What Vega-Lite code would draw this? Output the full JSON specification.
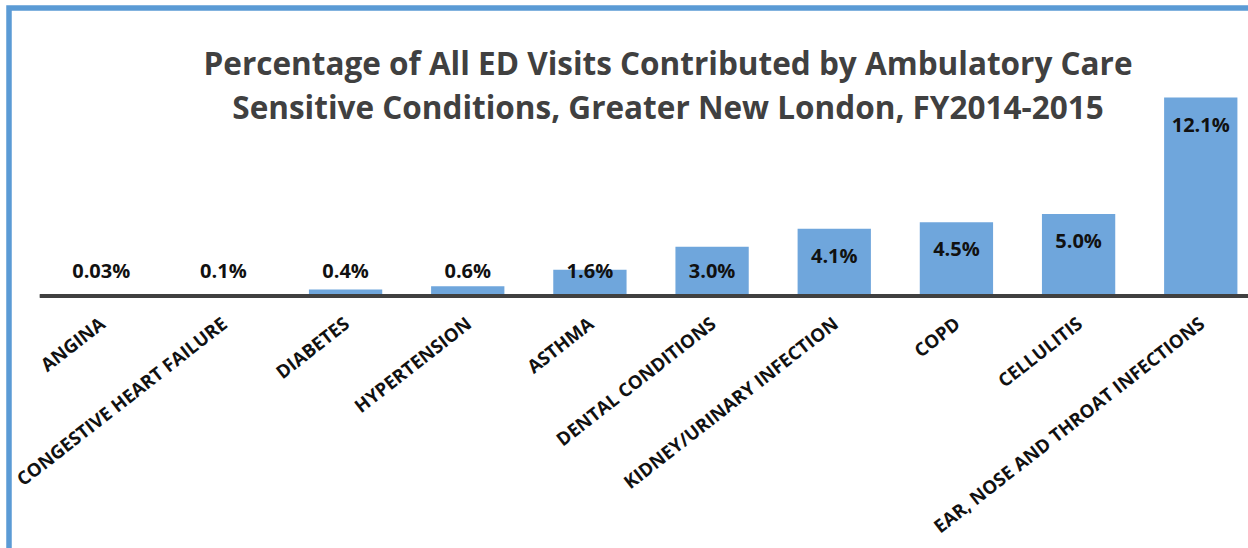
{
  "$schema": "https://vega.github.io/schema/vega-lite/v6.json",
  "autosize": {"type": "none"},
  "padding": {"left": 9, "top": 8, "right": 0, "bottom": 0},
  "width": 1284,
  "height": 560,
  "background": "white",
  "config": {
    "view": {"stroke": "#5b9bd5", "strokeWidth": 5.5},
    "font": "Open Sans"
  },
  "title": {
    "text": ["Percentage of All ED Visits Contributed by Ambulatory Care", "Sensitive Conditions, Greater New London, FY2014-2015"],
    "anchor": "middle",
    "frame": "group",
    "dx": 17,
    "dy": 117,
    "offset": 0,
    "baseline": "top",
    "font": "Open Sans",
    "fontSize": 31.5,
    "fontWeight": "bold",
    "color": "#404040",
    "lineHeight": 44
  },
  "data": {
    "values": [
      {"condition": "ANGINA", "value": 0.03, "label": "0.03%"},
      {"condition": "CONGESTIVE HEART FAILURE", "value": 0.1, "label": "0.1%"},
      {"condition": "DIABETES", "value": 0.4, "label": "0.4%"},
      {"condition": "HYPERTENSION", "value": 0.6, "label": "0.6%"},
      {"condition": "ASTHMA", "value": 1.6, "label": "1.6%"},
      {"condition": "DENTAL CONDITIONS", "value": 3.0, "label": "3.0%"},
      {"condition": "KIDNEY/URINARY INFECTION", "value": 4.1, "label": "4.1%"},
      {"condition": "COPD", "value": 4.5, "label": "4.5%"},
      {"condition": "CELLULITIS", "value": 5.0, "label": "5.0%"},
      {"condition": "EAR, NOSE AND THROAT INFECTIONS", "value": 12.1, "label": "12.1%"}
    ]
  },
  "layer": [
    {
      "mark": {"type": "bar", "color": "#6fa6dc"},
      "encoding": {
        "x": {
          "field": "condition",
          "type": "nominal",
          "sort": null,
          "scale": {"paddingInner": 0.4, "paddingOuter": 0.455},
          "axis": {
            "title": null,
            "orient": "bottom",
            "offset": -272,
            "domain": false,
            "ticks": false,
            "labelAngle": -38,
            "labelAlign": "right",
            "labelBaseline": "top",
            "labelPadding": 18,
            "labelOffset": -4,
            "labelFont": "Open Sans",
            "labelFontSize": 18.5,
            "labelFontWeight": "bold",
            "labelColor": "#111111",
            "labelLimit": 500,
            "labelOverlap": false
          }
        },
        "y": {
          "field": "value",
          "type": "quantitative",
          "scale": {"domain": [-16.585, 17.561], "nice": false, "zero": false},
          "axis": null
        }
      }
    },
    {
      "mark": {"type": "rule", "color": "#404040", "strokeWidth": 3.5},
      "encoding": {
        "x": {"datum": "ANGINA", "type": "nominal", "bandPosition": -0.336},
        "x2": {"value": "width"},
        "y": {"datum": 0, "type": "quantitative"}
      }
    },
    {
      "transform": [{"filter": "datum.value < 4"}],
      "mark": {"type": "text", "font": "Open Sans", "fontSize": 20, "fontWeight": "bold", "color": "#111111", "baseline": "middle", "dy": -24},
      "encoding": {
        "x": {"field": "condition", "type": "nominal", "sort": null},
        "y": {"datum": 0, "type": "quantitative"},
        "text": {"field": "label"}
      }
    },
    {
      "transform": [{"filter": "datum.value >= 4"}],
      "mark": {"type": "text", "font": "Open Sans", "fontSize": 20, "fontWeight": "bold", "color": "#111111", "baseline": "middle", "dy": 28},
      "encoding": {
        "x": {"field": "condition", "type": "nominal", "sort": null},
        "y": {"field": "value", "type": "quantitative"},
        "text": {"field": "label"}
      }
    }
  ]
}
